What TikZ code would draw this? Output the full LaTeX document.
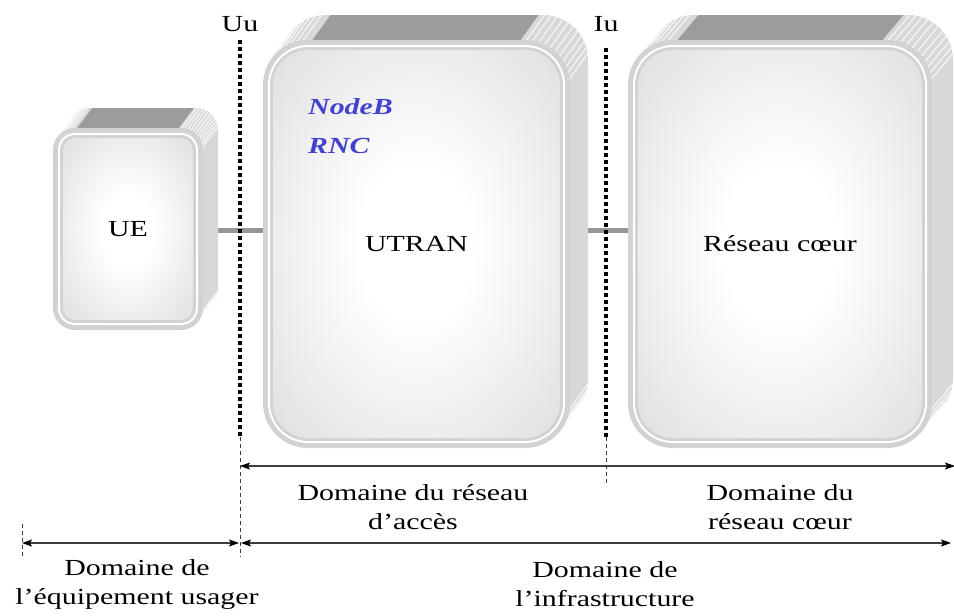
\documentclass[tikz,border=0pt]{standalone}
\usepackage{fontspec}
\setmainfont{Liberation Serif}[FakeStretch=1.3]
\usetikzlibrary{arrows.meta,backgrounds}
\definecolor{nodeblue}{RGB}{66,66,205}
\definecolor{sidegray}{RGB}{216,216,216}
\definecolor{topgray}{RGB}{156,156,156}
\definecolor{facegray}{RGB}{210,210,210}
\definecolor{innergray}{RGB}{204,204,204}
\definecolor{midgray}{RGB}{228,228,228}
\definecolor{linkgray}{RGB}{150,150,150}
\definecolor{arrowgray}{RGB}{60,60,60}
\pgfdeclareradialshading{boxshade}{\pgfpoint{0bp}{0bp}}{color(0bp)=(white); color(10bp)=(white); color(32bp)=(midgray); color(50bp)=(innergray); color(100bp)=(innergray)}
\tikzset{
  facebox/.style={draw=none, fill=facegray, inner sep=0pt, outer sep=0pt},
  boxtext/.style={font=\fontsize{23}{29}\selectfont, text=black},
  lbl/.style={font=\fontsize{23}{29}\selectfont, align=center, inner sep=0pt},
  bluelbl/.style={font=\fontsize{23}{29}\selectfont\bfseries\itshape, text=nodeblue, anchor=west, inner sep=0pt},
  link/.style={draw=linkgray, line width=5pt},
  ifdots/.style={line width=3.6pt, dash pattern=on 3.6pt off 3.4pt},
  tick/.style={draw=arrowgray, line width=0.8pt, dash pattern=on 4pt off 3pt},
  dim/.style={draw=arrowgray, line width=1.3pt, {Stealth[length=10pt,width=7pt,inset=2pt,black]}-{Stealth[length=10pt,width=7pt,inset=2pt,black]}},
  stripe/.style={draw=white, line width=1pt, opacity=0.85}
}
% #1 name, #2 x1, #3 y1, #4 x2, #5 y2, #6 radius, #7 dx, #8 dy, #9 text
\newcommand\solidbox[9]{%
  \pgfmathsetmacro\bw{#4-#2}%
  \pgfmathsetmacro\bh{#5-#3}%
  \foreach \t in {1,0.9,0.8,0.7,0.6,0.5,0.4,0.3,0.2,0.1}{%
    \fill[sidegray, rounded corners=#6pt] ({#2+\t*#7},{#3-\t*#8}) rectangle ({#4+\t*#7},{#5-\t*#8});
  }
  \fill[topgray] ({#2+1.1*#6},#3) -- ({#2+1.1*#6+#7},{#3-#8}) -- ({#4-1.1*#6+#7},{#3-#8}) -- ({#4-1.1*#6},#3) -- cycle;
  \foreach \a in {8,16,...,88}{%
    \draw[stripe] ({#4-#6+#6*cos(\a)},{#3+#6-#6*sin(\a)}) -- ++(#7,-#8);
  }
  \foreach \a in {96,104,...,140}{%
    \draw[stripe] ({#2+#6+#6*cos(\a)},{#3+#6-#6*sin(\a)}) -- ++(#7,-#8);
  }
  \foreach \a in {312,320,...,352}{%
    \draw[stripe] ({#4-#6+#6*cos(\a)},{#5-#6-#6*sin(\a)}) -- ++(#7,-#8);
  }
  \node[facebox, rounded corners=#6pt, minimum width=\bw pt, minimum height=\bh pt] (#1) at ({(#2+#4)/2},{(#3+#5)/2}) {};
  \draw[white, line width=2pt, rounded corners=#6pt-6pt] ([shift={(6,6)}]#1.north west) rectangle ([shift={(-6,-6)}]#1.south east);
  \shade[shading=boxshade, rounded corners=#6pt-10pt] ([shift={(10,10)}]#1.north west) rectangle ([shift={(-10,-10)}]#1.south east);
  \node[boxtext] (#1t) at (#1.center) {#9};
}
\begin{document}
\begin{tikzpicture}[x=1pt, y=-1pt]
\useasboundingbox (0,0) rectangle (954,616);
\begin{scope}[on background layer]
  \fill[white] (0,0) rectangle (954,616);
\end{scope}

\solidbox{ue}{53}{128}{203}{330}{22}{15}{20}{UE}
\solidbox{utran}{263}{40}{570}{448}{45}{18}{25}{UTRAN}
\solidbox{core}{628}{40}{932}{448}{45}{21}{25}{Réseau cœur}

\node[bluelbl] (nodeb) at (308,107) {NodeB};
\node[bluelbl] (rnc) at (308,146) {RNC};

\begin{scope}[on background layer]
  \draw[link] ([yshift=-1]ue.east) -- ([yshift=-1]ue.east -| utran.west);
  \draw[link] ([yshift=-1]ue.east -| utran.east) -- ([yshift=-1]ue.east -| core.west);
\end{scope}

% interfaces
\node[lbl] (uu) at (240,24) {Uu};
\node[lbl] (iu) at (606,24) {Iu};
\coordinate (uutop) at (240,40);
\coordinate (uumid) at (240,437);
\coordinate (uubot) at (240,557);
\coordinate (iutop) at (606,48);
\coordinate (iumid) at (606,437);
\coordinate (iubot) at (606,486);
\coordinate (lefttop) at (22,524);
\coordinate (leftbot) at (22,558);
\draw[ifdots] (uutop) -- (uumid);
\draw[ifdots] (iutop) -- (iumid);
\draw[tick] (uumid) -- (uubot);
\draw[tick] (iumid) -- (iubot);
\draw[tick] (lefttop) -- (leftbot);

% dimension arrows
\coordinate (a1l) at (240,466);
\coordinate (a1r) at (955,466);
\coordinate (a2l) at (22,543);
\coordinate (a2m1) at (239,543);
\coordinate (a2m2) at (241,543);
\coordinate (a2r) at (951,543);
\draw[dim] (a1l) -- (a1r);
\draw[dim] (a2l) -- (a2m1);
\draw[dim] (a2m2) -- (a2r);

\node[lbl] (dacc) at (413,507) {Domaine du réseau\\d’accès};
\node[lbl] (dcore) at (780,507) {Domaine du\\réseau cœur};
\node[lbl] (dequip) at (137,584) {Domaine de\\l’équipement usager};
\node[lbl] (dinfra) at (605,584) {Domaine de\\l’infrastructure};
\end{tikzpicture}
\end{document}
